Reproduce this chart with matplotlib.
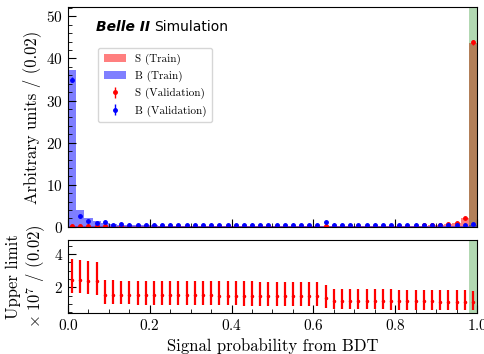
import numpy as np
import matplotlib.pyplot as plt
from matplotlib.ticker import MultipleLocator

plt.rcParams["font.family"] = "serif"
plt.rcParams["font.serif"] = ["cmr10", "DejaVu Serif"]
plt.rcParams["mathtext.fontset"] = "cm"
plt.rcParams["axes.formatter.use_mathtext"] = True

bin_edges = np.linspace(0.0, 1.0, 51)
bin_centers = 0.5 * (bin_edges[:-1] + bin_edges[1:])

# Normalised BDT output distributions, 50 bins of width 0.02
s_train = np.array([
    0.15, 0.15, 0.15, 0.15, 0.15, 0.12, 0.12, 0.12, 0.12, 0.12,
    0.12, 0.12, 0.12, 0.12, 0.12, 0.12, 0.12, 0.12, 0.12, 0.12,
    0.12, 0.12, 0.12, 0.12, 0.12, 0.12, 0.12, 0.12, 0.12, 0.12,
    0.15, 0.25, 0.15, 0.15, 0.15, 0.15, 0.15, 0.15, 0.18, 0.2,
    0.2, 0.22, 0.25, 0.3, 0.35, 0.45, 0.6, 0.9, 2.0, 43.6])
b_train = np.array([
    37.3, 4.0, 2.2, 1.5, 0.9, 0.6, 0.5, 0.45, 0.4, 0.35,
    0.35, 0.3, 0.3, 0.3, 0.3, 0.3, 0.3, 0.3, 0.3, 0.3,
    0.3, 0.3, 0.3, 0.3, 0.3, 0.3, 0.3, 0.3, 0.3, 0.3,
    0.3, 0.3, 0.3, 0.3, 0.3, 0.3, 0.3, 0.3, 0.3, 0.3,
    0.3, 0.3, 0.3, 0.3, 0.3, 0.3, 0.3, 0.3, 0.3, 0.4])
s_val = np.array([
    0.2, 0.2, 0.2, 0.2, 0.2, 0.15, 0.15, 0.15, 0.15, 0.15,
    0.15, 0.15, 0.15, 0.15, 0.15, 0.15, 0.15, 0.15, 0.15, 0.15,
    0.15, 0.15, 0.15, 0.15, 0.15, 0.15, 0.15, 0.15, 0.15, 0.15,
    0.15, 0.3, 0.15, 0.15, 0.15, 0.15, 0.2, 0.2, 0.2, 0.25,
    0.25, 0.3, 0.3, 0.35, 0.4, 0.5, 0.7, 1.0, 2.0, 43.8])
b_val = np.array([
    35.0, 2.7, 1.4, 1.0, 1.2, 0.5, 0.6, 0.45, 0.4, 0.4,
    0.4, 0.4, 0.4, 0.4, 0.4, 0.4, 0.4, 0.4, 0.4, 0.4,
    0.4, 0.4, 0.5, 0.4, 0.4, 0.4, 0.4, 0.4, 0.4, 0.4,
    0.4, 1.1, 0.4, 0.4, 0.4, 0.4, 0.4, 0.4, 0.4, 0.4,
    0.4, 0.4, 0.4, 0.4, 0.4, 0.4, 0.4, 0.4, 0.4, 0.8])

# Upper limit per bin (x 10^7) with asymmetric bands
ul_center = np.array([
    2.45, 2.43, 2.38, 2.35, 1.56, 1.55, 1.54, 1.54, 1.53, 1.53,
    1.53, 1.52, 1.52, 1.52, 1.52, 1.51, 1.51, 1.51, 1.5, 1.5,
    1.5, 1.5, 1.5, 1.5, 1.49, 1.49, 1.49, 1.48, 1.48, 1.48,
    1.48, 1.35, 1.2, 1.2, 1.2, 1.19, 1.19, 1.18, 1.18, 1.17,
    1.16, 1.16, 1.15, 1.15, 1.15, 1.14, 1.14, 1.13, 1.13, 1.1])
ul_upper = np.array([
    3.7, 3.66, 3.58, 3.52, 2.42, 2.41, 2.4, 2.4, 2.39, 2.39,
    2.38, 2.38, 2.37, 2.37, 2.37, 2.36, 2.36, 2.36, 2.35, 2.35,
    2.35, 2.35, 2.35, 2.34, 2.34, 2.34, 2.33, 2.33, 2.33, 2.32,
    2.32, 2.12, 1.92, 1.92, 1.91, 1.91, 1.9, 1.9, 1.89, 1.88,
    1.86, 1.86, 1.85, 1.85, 1.84, 1.84, 1.83, 1.83, 1.82, 1.8])
ul_lower = np.array([
    1.65, 1.63, 1.58, 1.55, 0.98, 0.97, 0.96, 0.96, 0.95, 0.95,
    0.94, 0.94, 0.93, 0.93, 0.92, 0.92, 0.91, 0.91, 0.9, 0.9,
    0.9, 0.89, 0.89, 0.88, 0.88, 0.87, 0.87, 0.86, 0.86, 0.85,
    0.85, 0.76, 0.68, 0.68, 0.67, 0.67, 0.66, 0.66, 0.66, 0.65,
    0.64, 0.64, 0.63, 0.63, 0.63, 0.62, 0.62, 0.61, 0.61, 0.6])

fig = plt.figure(figsize=(4.84, 3.54), dpi=100)
ax = fig.add_axes([0.1405, 0.359, 0.845, 0.621])
ax_ul = fig.add_axes([0.1405, 0.116, 0.845, 0.206])

ax.hist(bin_centers, bins=bin_edges, weights=s_train, histtype="stepfilled",
        color="red", alpha=0.5, label="S (Train)")
ax.hist(bin_centers, bins=bin_edges, weights=b_train, histtype="stepfilled",
        color="blue", alpha=0.5, label="B (Train)")
ax.errorbar(bin_centers, s_val, yerr=np.sqrt(s_val) * 0.1, fmt="o", ms=2.5,
            color="red", elinewidth=1, label="S (Validation)")
ax.errorbar(bin_centers, b_val, yerr=np.sqrt(b_val) * 0.1, fmt="o", ms=2.5,
            color="blue", elinewidth=1, label="B (Validation)")
ax.axvspan(0.98, 1.0, color="green", alpha=0.3, lw=0)

ax.set_xlim(0, 1)
ax.set_ylim(0, 52.2)
ax.set_ylabel("Arbitrary units / (0.02)", fontsize=12)
ax.yaxis.set_major_locator(MultipleLocator(10))
ax.yaxis.set_minor_locator(MultipleLocator(2))
ax.xaxis.set_major_locator(MultipleLocator(0.2))
ax.xaxis.set_minor_locator(MultipleLocator(0.05))
ax.tick_params(which="both", direction="in", labelbottom=False, labelsize=11)
ax.tick_params(which="major", length=6)
ax.tick_params(which="minor", length=3)

belle = ax.text(0.068, 0.91, "Belle II", transform=ax.transAxes, fontsize=10,
                va="center", family="DejaVu Sans", fontweight="bold",
                style="italic")
ax.annotate("Simulation", xy=(1, 0.5), xycoords=belle, xytext=(3, 0),
            textcoords="offset points", va="center", fontsize=10,
            family="DejaVu Sans")

ax.legend(loc="upper left", bbox_to_anchor=(0.06, 0.84), fontsize=8,
          frameon=True, fancybox=True, edgecolor="#cccccc",
          handlelength=2.0, borderpad=0.5, labelspacing=0.55)

ax_ul.errorbar(bin_centers, ul_center,
               yerr=[ul_center - ul_lower, ul_upper - ul_center],
               fmt="o", ms=1.5, color="red", elinewidth=1.6)
ax_ul.axvspan(0.98, 1.0, color="green", alpha=0.3, lw=0)
ax_ul.set_xlim(0, 1)
ax_ul.set_ylim(0.45, 4.85)
ax_ul.yaxis.set_major_locator(MultipleLocator(2))
ax_ul.yaxis.set_minor_locator(MultipleLocator(0.5))
ax_ul.xaxis.set_major_locator(MultipleLocator(0.2))
ax_ul.xaxis.set_minor_locator(MultipleLocator(0.05))
ax_ul.tick_params(which="both", direction="in", labelsize=11)
ax_ul.tick_params(which="major", length=6)
ax_ul.tick_params(which="minor", length=3)
ax_ul.set_xlabel("Signal probability from BDT", fontsize=12)
ax_ul.set_ylabel("Upper limit\n" + r"$\times\;10^{7}$ / (0.02)", fontsize=12)
fig.align_ylabels([ax, ax_ul])

fig.savefig("out.png", dpi=100)
